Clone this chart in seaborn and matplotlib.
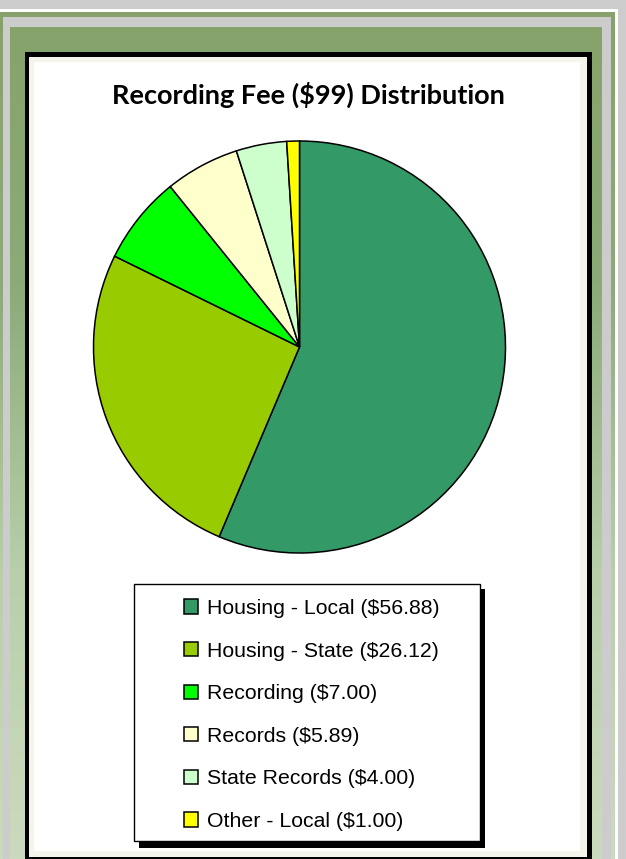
import matplotlib
matplotlib.use("Agg")
import matplotlib.pyplot as plt
import matplotlib.patches as mpatches
import numpy as np
import seaborn as sns
from matplotlib.colors import LinearSegmentedColormap

# chart data
categories = ["Housing - Local", "Housing - State", "Recording", "Records", "State Records", "Other - Local"]
amounts = [56.88, 26.12, 7.00, 5.89, 4.00, 1.00]
slice_colors = ["#339966", "#99cc00", "#00ff00", "#ffffcc", "#ccffcc", "#ffff00"]
title = r"Recording Fee (\$99) Distribution"

W, H = 626, 859

sns.set_theme(style="white", rc={"text.color": "black"})
plt.rcParams["font.family"] = ["Liberation Sans Narrow", "Liberation Sans", "DejaVu Sans"]

fig = plt.figure(figsize=(W / 100, H / 100), dpi=100, facecolor="#cccccc")

# background frame drawn in pixel units (y grows downward)
bg = fig.add_axes([0, 0, 1, 1], zorder=0)
bg.set_xlim(0, W)
bg.set_ylim(H, 0)
bg.axis("off")


def rect(x0, y0, x1, y1, color, z=1):
    bg.add_patch(mpatches.Rectangle((x0, y0), x1 - x0, y1 - y0, facecolor=color, edgecolor="none", zorder=z))


green = LinearSegmentedColormap.from_list("frame", ["#86a26a", "#8cab78", "#b8cfaa", "#cbdabe"])
grad = np.linspace(0, 1, 256).reshape(-1, 1)


def gradient(x0, y0, x1, y1, z):
    bg.imshow(grad, cmap=green, aspect="auto", extent=(x0, x1, H, 0), zorder=z,
              clip_on=True).set_clip_path(mpatches.Rectangle((x0, y0), x1 - x0, y1 - y0, transform=bg.transData))


rect(-5, 9, 618, H + 5, "white", 1)
gradient(-5, 12, 615, H + 5, 2)
rect(3, 17, 611, H + 5, "#cccccc", 3)
gradient(10, 27, 602, H + 5, 4)
rect(25, 52, 592, 859, "black", 5)
rect(29, 57, 587, 857, "#f4f4ea", 6)
rect(34, 62, 580, 851, "white", 7)

bg.text(308.5, 95, title, ha="center", va="center", fontsize=19.5, fontweight="bold",
        family=["Lato", "DejaVu Sans"], color="black", zorder=10)

# legend box with shadow
rect(139, 589, 485, 848, "black", 8)
bg.add_patch(mpatches.Rectangle((134, 584), 346, 257, facecolor="white", edgecolor="black",
                                linewidth=1.0, zorder=9))

# pie
cx, cy, r = 299.5, 347, 206
ax = fig.add_axes([(cx - r) / W, 1 - (cy + r) / H, 2 * r / W, 2 * r / H], zorder=1)
palette = sns.color_palette(slice_colors)
wedges, _ = ax.pie(amounts, colors=palette, startangle=90, counterclock=False, radius=1,
                   wedgeprops=dict(edgecolor="black", linewidth=1.1, clip_on=False))
ax.set_xlim(-1, 1)
ax.set_ylim(-1, 1)
ax.set_aspect("equal")
ax.axis("off")

labels = [f"{c} (\\${v:.2f})" for c, v in zip(categories, amounts)]
ax.legend(wedges, labels, loc="upper left", bbox_to_anchor=(184, 599), bbox_transform=bg.transData,
          frameon=False, fontsize=15.3, handlelength=0.66, handleheight=0.66, handletextpad=0.42,
          labelspacing=1.11, borderpad=0, borderaxespad=0, labelcolor="black")

fig.savefig("out.png", dpi=100, facecolor=fig.get_facecolor())
